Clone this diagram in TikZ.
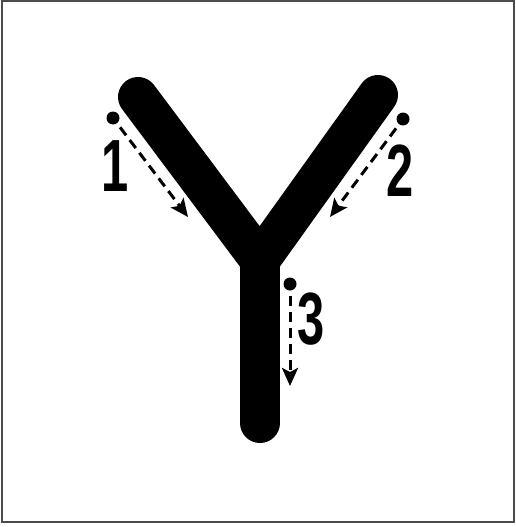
\documentclass[tikz,border=0pt]{standalone}
\usepackage{fontspec}
\setmainfont{Liberation Sans}
\usetikzlibrary{arrows.meta}
\begin{document}
\begin{tikzpicture}[x=1pt,y=-1pt,
  stroke/.style={line width=40pt,line cap=round,line join=miter},
  dot/.style={circle,fill=black,draw=none,inner sep=0pt,minimum size=13pt},
  guide/.style={line width=3pt,dash pattern=on 10pt off 6pt,shorten <=5pt,-{Stealth[length=18pt,width=16pt,inset=4pt]}},
  num/.style={inner sep=0pt,font=\bfseries\fontsize{74}{74}\selectfont}]
\useasboundingbox (0,0) rectangle (515,527);
\draw[gray!60!black,line width=2pt] (2,1.5) rectangle (513.5,521.5);
% Y letter
\coordinate (L) at (138,97);
\coordinate (R) at (378,95);
\coordinate (J) at (260,260);
\coordinate (B) at (260,423);
\draw[stroke] (L) -- (J) -- (R);
\draw[stroke,line cap=butt] (J) -- (260,423);
\draw[stroke] (260,300) -- (B);
% guides
\node[dot] (d1) at (113,118) {};
\node[dot] (d2) at (403,119) {};
\node[dot] (d3) at (290,284) {};
\coordinate (t1) at (188,217);
\coordinate (t2) at (330,217);
\coordinate (t3) at (290,386);
\draw[guide] (d1) -- (t1);
\draw[guide] (d2) -- (t2);
\draw[guide] (d3) -- (t3);
% labels
\node[num] (n1) at (115,166) {\scalebox{0.66}[1]{1}};
\node[num] (n2) at (400,171) {\scalebox{0.66}[1]{2}};
\node[num] (n3) at (311,319) {\scalebox{0.66}[1]{3}};
\end{tikzpicture}
\end{document}
